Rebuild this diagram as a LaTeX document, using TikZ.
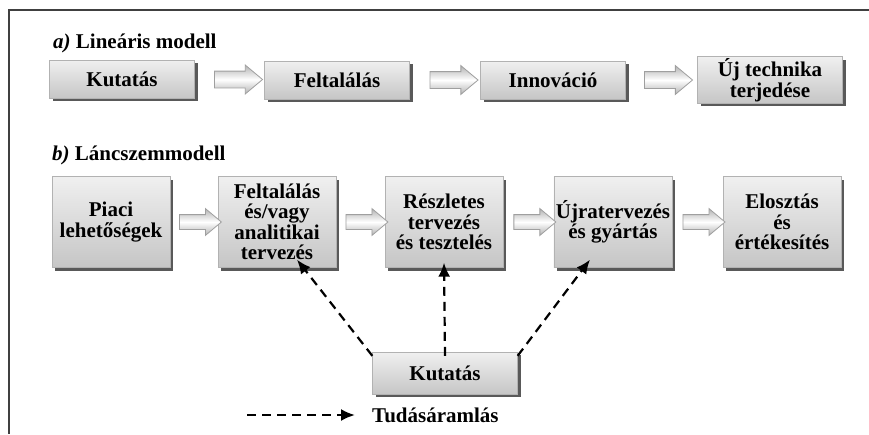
\documentclass[tikz,border=0pt]{standalone}
\usepackage{fontspec}
\setmainfont{Liberation Serif}
\usetikzlibrary{shapes.arrows,shadows,arrows.meta,calc}
\tikzset{
  box/.style={rectangle, draw=gray!60, line width=0.3pt, top color=gray!12, bottom color=gray!45,
    align=center, font=\bfseries\fontsize{21}{20.5}\selectfont, inner sep=2pt,
    drop shadow={shadow xshift=3pt, shadow yshift=-3pt, fill=black!65, opacity=1}},
  abox/.style={box, minimum width=145pt, minimum height=38pt},
  bbox/.style={box, minimum width=118pt, minimum height=91pt},
  blockarrow/.style={single arrow, draw=gray!75, line width=0.8pt, top color=gray!60, bottom color=gray!60, middle color=white,
    minimum height=48pt, inner xsep=0pt, inner ysep=8pt, minimum width=28pt, single arrow head extend=6pt, single arrow tip angle=80},
  knowledge/.style={black, line width=2.2pt, dash pattern=on 9pt off 6pt, -{Latex[length=14pt,width=12pt]}},
  title/.style={anchor=west, font=\bfseries\fontsize{21}{20}\selectfont, inner sep=0pt}
}
\begin{document}
\begin{tikzpicture}[x=1pt,y=-1pt]
\useasboundingbox (0,0) rectangle (869,434);
\fill[white] (0,0) rectangle (869,434);
\draw[black!75, line width=1.5pt] (869,10) -- (9,10) -- (9,434);

\node[title] (ta) at (53,43) {\textit{a)} Lineáris modell};
\node[abox] (a1) at (122,79) {Kutatás};
\node[abox] (a2) at (337,80) {Feltalálás};
\node[abox] (a3) at (553,80) {Innováció};
\node[abox] (a4) at (770,80) {Új technika\\terjedése};

\node[blockarrow] (aa1) at ($(a1.east)!0.5!(a2.west)+(4,0)$) {};
\node[blockarrow] (aa2) at ($(a2.east)!0.5!(a3.west)+(4,0)$) {};
\node[blockarrow] (aa3) at ($(a3.east)!0.5!(a4.west)+(2,0)$) {};

\node[title] (tb) at (52,155) {\textit{b)} Láncszemmodell};
\node[bbox] (b1) at (111,222) {Piaci\\lehetőségek};
\node[bbox] (b2) at (277,222) {Feltalálás\\és/vagy\\analitikai\\tervezés};
\node[bbox] (b3) at (444,222) {Részletes\\tervezés\\és tesztelés};
\node[bbox] (b4) at (613,222) {Újratervezés\\és gyártás};
\node[bbox] (b5) at (782,222) {Elosztás\\és\\értékesítés};

\foreach \p/\q/\n in {b1/b2/ba1, b2/b3/ba2, b3/b4/ba3, b4/b5/ba4}
  \node[blockarrow, minimum height=42pt, minimum width=26pt, inner ysep=7pt] (\n) at ($(\p.east)!0.5!(\q.west)+(2,0)$) {};

\node[abox, minimum height=42pt] (k) at (445,373) {Kutatás};

\draw[knowledge] ([yshift=-4pt]k.north west) -- ([xshift=20pt,yshift=8pt]b2.south);
\draw[knowledge] ([yshift=-4pt]k.north) -- ([yshift=5pt]b3.south);
\draw[knowledge] ([yshift=-4pt]k.north east) -- ([xshift=-23pt,yshift=8pt]b4.south);

\coordinate (l1) at (247,415);
\node[anchor=west, inner sep=0pt, font=\bfseries\fontsize{21}{20}\selectfont] (lt) at (372,415) {Tudásáramlás};
\draw[knowledge] (l1) -- ([xshift=-17pt]lt.west);
\end{tikzpicture}
\end{document}
